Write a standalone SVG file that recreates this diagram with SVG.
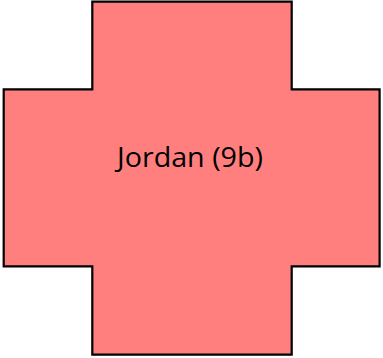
<svg xmlns="http://www.w3.org/2000/svg" width="383" height="358" viewBox="0 0 383 358">
<style>
.shape{fill:#FF7F7F;stroke:#000;stroke-width:2.2;stroke-linejoin:miter}
.label{font-family:"Open Sans","Liberation Sans",sans-serif;font-size:27px;fill:#000;text-anchor:middle}
</style>
<g id="jordan">
<path class="shape" d="M92.3,1.7 H291.7 V89.3 H379.6 V266.4 H291.7 V354.6 H92.3 V266.4 H3.7 V89.3 H92.3 Z"/>
<text class="label" x="190" y="166.5" textLength="146" lengthAdjust="spacingAndGlyphs">Jordan (9b)</text>
</g>
<g id="connectors"/>
</svg>
